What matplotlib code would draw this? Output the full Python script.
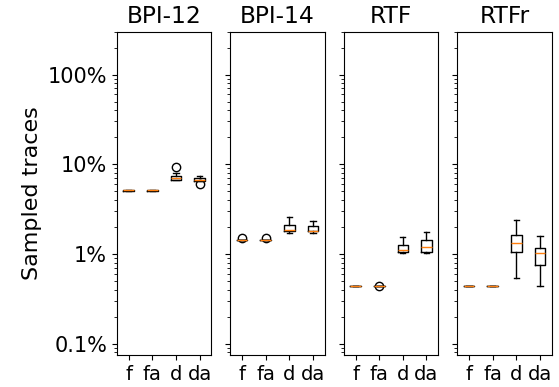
import numpy as np
import matplotlib.pyplot as plt
from matplotlib.ticker import FuncFormatter

# Datos (en %)
logs = ['BPI-12', 'BPI-14', 'RTF', 'RTFr']
variantes = ['f', 'fa', 'd', 'da']

# por log: [f, fa, d, da]
med = {'BPI-12': [5.1, 5.1, 7.0, 6.7],
       'BPI-14': [1.43, 1.43, 1.85, 1.8],
       'RTF': [0.437, 0.437, 1.1, 1.18],
       'RTFr': [0.437, 0.437, 1.33, 1.01]}
q1 = {'BPI-12': [5.08, 5.08, 6.7, 6.5],
      'BPI-14': [1.42, 1.42, 1.8, 1.78],
      'RTF': [0.436, 0.436, 1.04, 1.05],
      'RTFr': [0.436, 0.436, 1.05, 0.754]}
q3 = {'BPI-12': [5.12, 5.12, 7.36, 7.0],
      'BPI-14': [1.44, 1.44, 2.08, 2.03],
      'RTF': [0.438, 0.438, 1.27, 1.43],
      'RTFr': [0.438, 0.438, 1.64, 1.16]}
whislo = {'BPI-12': [5.08, 5.08, 6.6, 6.5],
          'BPI-14': [1.42, 1.42, 1.69, 1.72],
          'RTF': [0.436, 0.436, 1.02, 1.02],
          'RTFr': [0.436, 0.436, 0.537, 0.437]}
whishi = {'BPI-12': [5.12, 5.12, 7.9, 7.4],
          'BPI-14': [1.44, 1.44, 2.56, 2.35],
          'RTF': [0.438, 0.438, 1.53, 1.74],
          'RTFr': [0.438, 0.438, 2.37, 1.58]}
outliers = {'BPI-12': [[], [], [9.2], [5.95]],
            'BPI-14': [[1.51], [1.51], [], []],
            'RTF': [[], [0.44], [], []],
            'RTFr': [[], [], [], []]}

plt.rcParams['font.size'] = 14

fig, axes = plt.subplots(1, 4, sharey=True, figsize=(5.59, 3.87), dpi=100)
fig.subplots_adjust(left=0.209, right=0.987, top=0.918, bottom=0.082, wspace=0.2)

for ax, log in zip(axes, logs):
    stats = []
    for i, v in enumerate(variantes):
        stats.append({'med': med[log][i], 'q1': q1[log][i], 'q3': q3[log][i],
                      'whislo': whislo[log][i], 'whishi': whishi[log][i],
                      'fliers': outliers[log][i], 'label': v})
    ax.bxp(stats)
    ax.set_yscale('log')
    ax.set_title(log)

axes[0].set_ylim(0.074, 300)
axes[0].set_yticks([0.1, 1, 10, 100])
axes[0].yaxis.set_major_formatter(FuncFormatter(lambda y, p: '%g%%' % y))
axes[0].tick_params(axis='y', labelsize=15)
axes[0].set_ylabel('Sampled traces', fontsize=16)

plt.savefig('out.png')
